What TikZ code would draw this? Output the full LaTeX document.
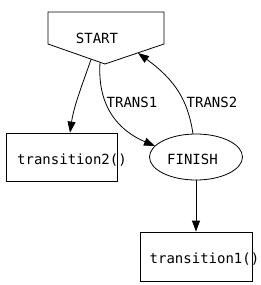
\documentclass[tikz,border=0pt]{standalone}
\usepackage{fontspec}
\setmonofont{DejaVu Sans Mono}
\usetikzlibrary{arrows.meta,shapes.geometric}
\begin{document}
\begin{tikzpicture}[x=1pt,y=-1pt,
  every node/.style={font=\ttfamily\fontsize{14}{16}\selectfont, inner sep=0pt},
  box/.style={draw, line width=0.8pt, minimum width=#1, minimum height=48pt},
  conn/.style={line width=0.8pt, -{Triangle[length=11pt,width=8pt]}}]
\useasboundingbox (0,0) rectangle (261,285);
% START pentagon
\draw[line width=0.8pt] (48,12) -- (164,12) -- (164,44) -- (105,64) -- (48,44) -- cycle;
\node (start) at (97,38) {START};
\coordinate (sA) at (91,59.5);
\coordinate (sB) at (100,62.5);
\coordinate (sC) at (138,53);
% boxes
\node[box=111pt] (t2) at (61.5,157) {};
\node at (72,160) {transition2()};
\node[box=112pt, minimum height=49pt] (t1) at (196,256.5) {};
\node at (204.5,259) {transition1()};
% ellipse
\node[draw, ellipse, line width=0.8pt, minimum width=93pt, minimum height=46pt] (fin) at (196,157) {};
\node at (192.5,159) {FINISH};
\coordinate (fA) at (155,146);
\coordinate (fB) at (193,134);
% connectors
\draw[conn] (sA) .. controls (84,80) and (74,105) .. (t2.north -| 70,0);
\draw[conn] (sB) .. controls (97,110) and (122,132) .. (fA);
\draw[conn] (fB) .. controls (188,100) and (175,80) .. (sC);
\draw[conn] (fin.south) -- (t1.north);
\node at (132,102) {TRANS1};
\node at (212,102) {TRANS2};
\end{tikzpicture}
\end{document}
